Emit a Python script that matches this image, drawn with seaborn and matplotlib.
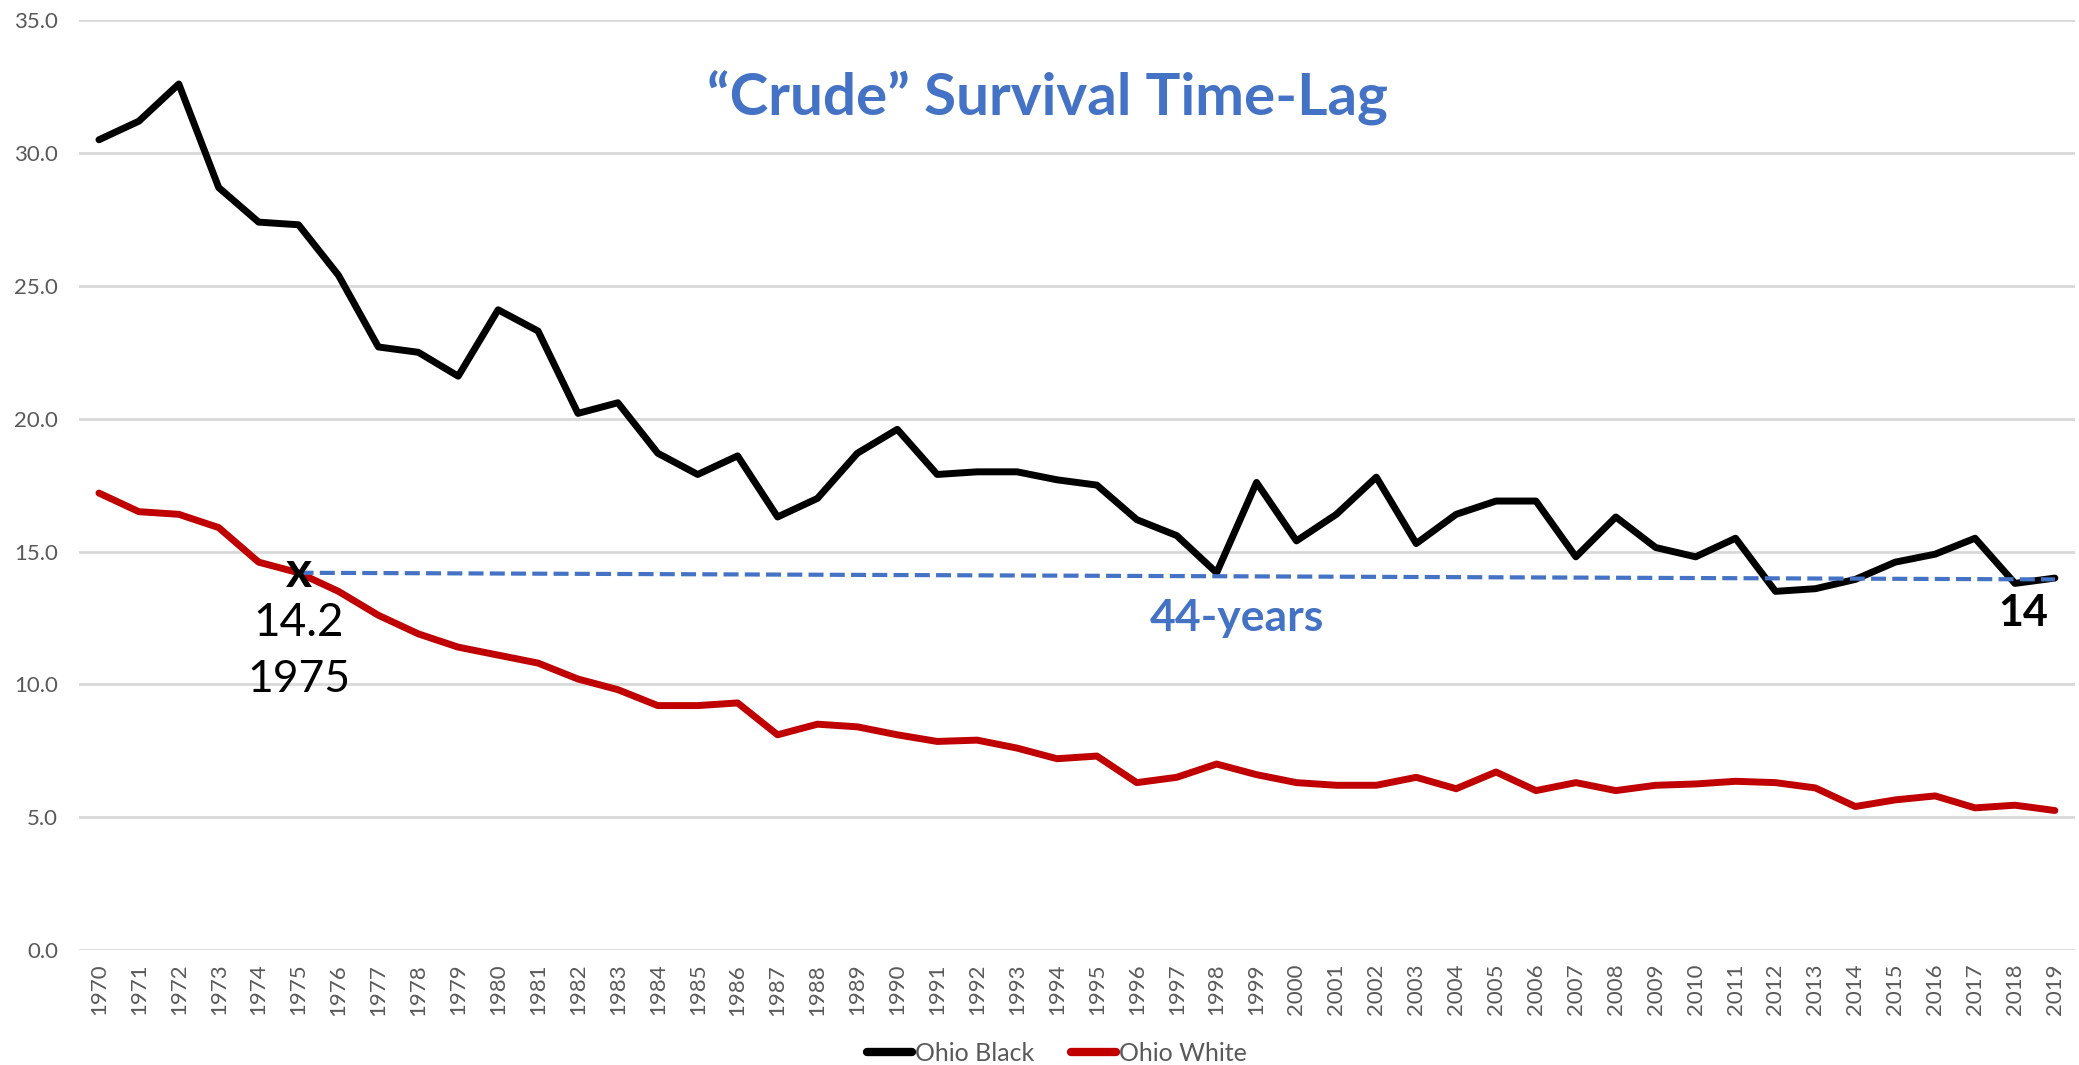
import matplotlib.pyplot as plt
import seaborn as sns
import pandas as pd
import numpy as np

sns.set_theme(style="white")
plt.rcParams['font.family'] = ['Lato', 'DejaVu Sans']

# data
years = list(range(1970, 2020))
ohio_black = [30.5, 31.2, 32.6, 28.7, 27.4, 27.3, 25.4, 22.7, 22.5, 21.6,
              24.1, 23.3, 20.2, 20.6, 18.7, 17.9, 18.6, 16.3, 17.0, 18.7,
              19.6, 17.9, 18.0, 18.0, 17.7, 17.5, 16.2, 15.6, 14.2, 17.6,
              15.4, 16.4, 17.8, 15.3, 16.4, 16.9, 16.9, 14.8, 16.3, 15.15,
              14.8, 15.5, 13.5, 13.6, 13.95, 14.6, 14.9, 15.5, 13.8, 14.0]
ohio_white = [17.2, 16.5, 16.4, 15.9, 14.6, 14.2, 13.5, 12.6, 11.9, 11.4,
              11.1, 10.8, 10.2, 9.8, 9.2, 9.2, 9.3, 8.1, 8.5, 8.4,
              8.1, 7.85, 7.9, 7.6, 7.2, 7.3, 6.3, 6.5, 7.0, 6.6,
              6.3, 6.2, 6.2, 6.5, 6.07, 6.7, 6.0, 6.3, 6.0, 6.2,
              6.25, 6.35, 6.3, 6.1, 5.4, 5.65, 5.8, 5.35, 5.45, 5.25]
series_names = ['Ohio Black', 'Ohio White']
series_colors = ['#000000', '#C00000']

# time-lag line: White reaches 14.2 in 1975, Black reaches 14 in 2019
lag_years = [1975, 2019]
lag_values = [14.2, 13.95]

df = pd.DataFrame({
    'Year': years * 2,
    'Rate': ohio_black + ohio_white,
    'Group': [series_names[0]] * len(years) + [series_names[1]] * len(years),
})

fig = plt.figure(figsize=(20.79, 10.65), dpi=100)
ax = fig.add_axes([0.038, 0.108, 0.96, 0.873])

sns.lineplot(data=df, x='Year', y='Rate', hue='Group',
             palette=dict(zip(series_names, series_colors)),
             linewidth=5, ax=ax, legend=True)

ax.plot(lag_years, lag_values, color='#4472C4', linewidth=3,
        linestyle=(0, (3.6, 1.5)), zorder=3)

# annotations
ax.text(lag_years[0], lag_values[0], 'x', ha='center', va='center',
        fontsize=36, fontweight='bold', color='black', zorder=4)
ax.text(lag_years[0], 12.3, '14.2', ha='center', va='center',
        fontsize=33, color='black')
ax.text(lag_years[0], 10.2, '1975', ha='center', va='center',
        fontsize=32, color='black')
ax.text(2018.2, 12.7, '14', ha='center', va='center',
        fontsize=31, fontweight='bold', color='black')
ax.text(1998.5, 12.5, '44-years', ha='center', va='center',
        fontsize=32, fontweight='bold', color='#4472C4')
ax.text(1993.75, 32.05, '\u201cCrude\u201d Survival Time-Lag', ha='center',
        va='center', fontsize=42, fontweight='bold', color='#4472C4')

ax.set_xlim(years[0] - 0.5, years[-1] + 0.5)
ax.set_ylim(0, 35)
ax.set_yticks(np.arange(0, 35.1, 5))
ax.set_yticklabels([f'{v:.1f}' for v in np.arange(0, 35.1, 5)])
ax.set_xticks(years)
ax.set_xticklabels([str(y) for y in years], rotation=90)
ax.tick_params(axis='both', length=0, labelsize=16, labelcolor='#595959')
ax.tick_params(axis='y', pad=15)
ax.tick_params(axis='x', pad=10)
ax.set_xlabel('')
ax.set_ylabel('')
ax.yaxis.grid(True, color='#d9d9d9', linewidth=2)
ax.xaxis.grid(False)
for s in ax.spines.values():
    s.set_visible(False)

leg = ax.legend(loc='center', bbox_to_anchor=(0.49, -0.111), ncol=2,
                frameon=False, fontsize=18, handlelength=1.8,
                handletextpad=0.1, columnspacing=1.5)
for t in leg.get_texts():
    t.set_color('#595959')
for h in leg.get_lines():
    h.set_linewidth(6)

fig.savefig('out.png', dpi=100)
